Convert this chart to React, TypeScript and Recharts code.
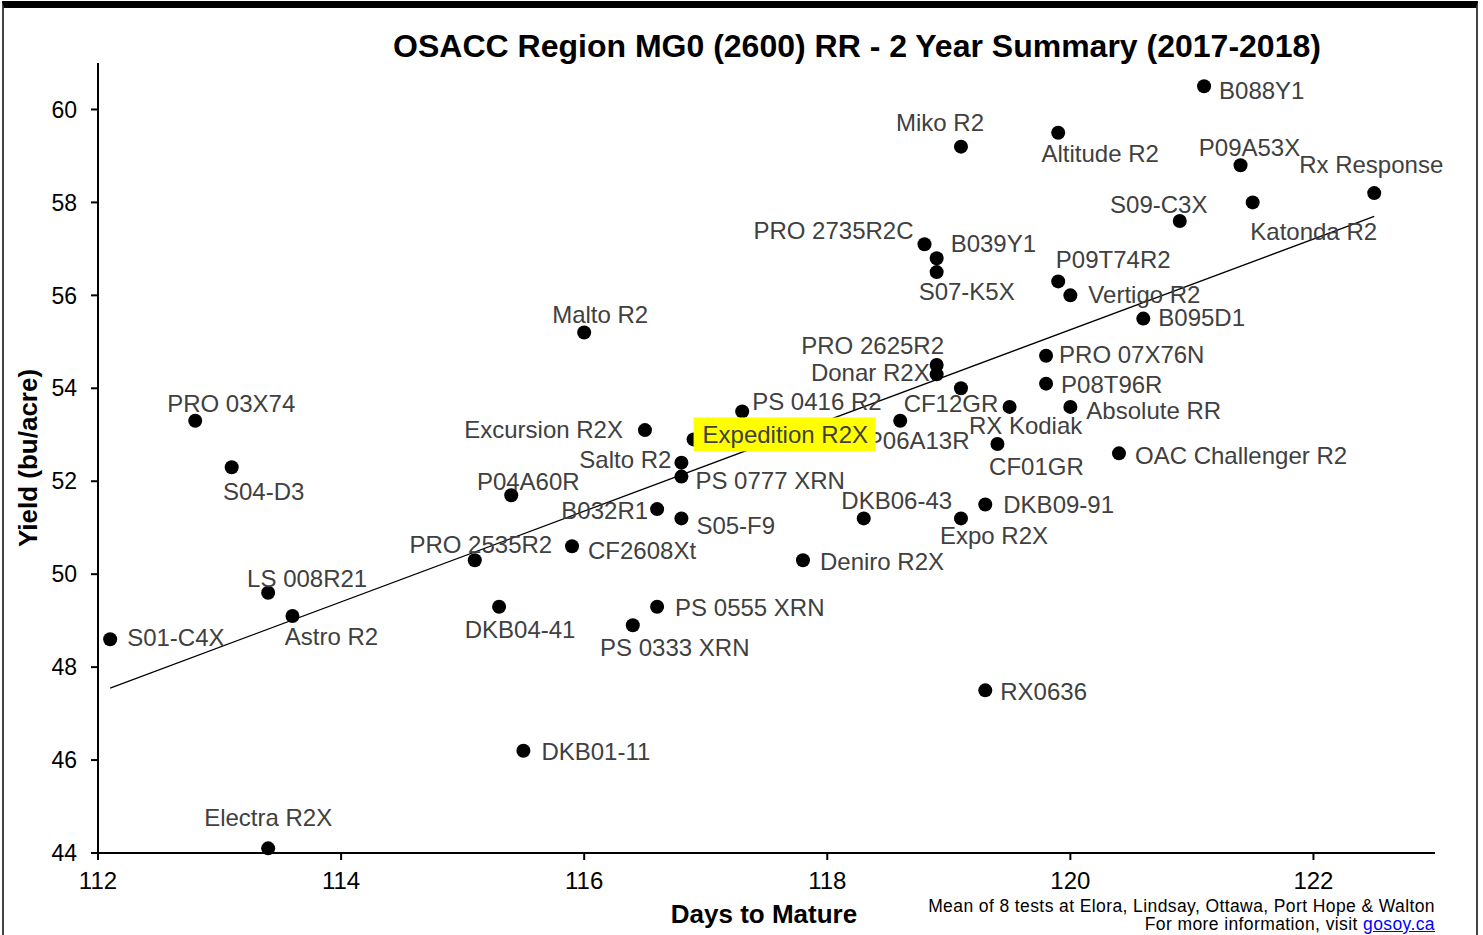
import React from "react";
import { ScatterChart, Scatter, XAxis, YAxis, ReferenceLine } from "recharts";

// variety names, days to maturity and yield (bu/acre)
const varieties = [
  "B088Y1", "Miko R2", "Altitude R2", "P09A53X", "Rx Response", "S09-C3X", "Katonda R2",
  "PRO 2735R2C", "B039Y1", "S07-K5X", "P09T74R2", "Vertigo R2", "B095D1", "Malto R2",
  "PRO 2625R2", "Donar R2X", "PRO 07X76N", "P08T96R", "CF12GR", "PS 0416 R2", "Absolute RR",
  "RX Kodiak", "P06A13R", "PRO 03X74", "Excursion R2X", "Expedition R2X", "CF01GR",
  "OAC Challenger R2", "S04-D3", "Salto R2", "PS 0777 XRN", "P04A60R", "DKB06-43", "DKB09-91",
  "B032R1", "S05-F9", "Expo R2X", "PRO 2535R2", "CF2608Xt", "Deniro R2X", "LS 008R21",
  "PS 0555 XRN", "DKB04-41", "Astro R2", "S01-C4X", "PS 0333 XRN", "RX0636", "DKB01-11",
  "Electra R2X",
];
const daysToMature = [
  121.1, 119.1, 119.9, 121.4, 122.5, 120.9, 121.5,
  118.8, 118.9, 118.9, 119.9, 120.0, 120.6, 116.0,
  118.9, 118.9, 119.8, 119.8, 119.1, 117.3, 120.0,
  119.5, 118.6, 112.8, 116.5, 116.9, 119.4,
  120.4, 113.1, 116.8, 116.8, 115.4, 118.3, 119.3,
  116.6, 116.8, 119.1, 115.1, 115.9, 117.8, 113.4,
  116.6, 115.3, 113.6, 112.1, 116.4, 119.3, 115.5,
  113.4,
];
const yieldBuAcre = [
  60.5, 59.2, 59.5, 58.8, 58.2, 57.6, 58.0,
  57.1, 56.8, 56.5, 56.3, 56.0, 55.5, 55.2,
  54.5, 54.3, 54.7, 54.1, 54.0, 53.5, 53.6,
  53.6, 53.3, 53.3, 53.1, 52.9, 52.8,
  52.6, 52.3, 52.4, 52.1, 51.7, 51.2, 51.5,
  51.4, 51.2, 51.2, 50.3, 50.6, 50.3, 49.6,
  49.3, 49.3, 49.1, 48.6, 48.9, 47.5, 46.2,
  44.1,
];
const xTicks = [112, 114, 116, 118, 120, 122];
const yTicks = [44, 46, 48, 50, 52, 54, 56, 58, 60];
const trendDays = [112.1, 122.5];
const trendYield = [47.55, 57.7];

const points = varieties.map((name, i) => ({ name, x: daysToMature[i], y: yieldBuAcre[i] }));

// label placement around each dot: [anchor, dx, dy]
const labelPos: Record<string, [string, number, number]> = {
  "B088Y1": ["start", 15, 4],
  "Miko R2": ["middle", -21, -24],
  "Altitude R2": ["middle", 42, 21],
  "P09A53X": ["middle", 9, -18],
  "Rx Response": ["middle", -3, -29],
  "S09-C3X": ["middle", -21, -17],
  "Katonda R2": ["middle", 61, 29],
  "PRO 2735R2C": ["end", -11, -14],
  "B039Y1": ["start", 14, -15],
  "S07-K5X": ["middle", 30, 19],
  "P09T74R2": ["middle", 55, -22],
  "Vertigo R2": ["start", 18, -1],
  "B095D1": ["start", 15, -1],
  "Malto R2": ["middle", 16, -18],
  "PRO 2625R2": ["middle", -64, -20],
  "Donar R2X": ["end", -7, -2],
  "PRO 07X76N": ["start", 13, -1],
  "P08T96R": ["start", 15, 1],
  "CF12GR": ["middle", -10, 15],
  "PS 0416 R2": ["start", 10, -10],
  "Absolute RR": ["start", 16, 4],
  "RX Kodiak": ["middle", 16, 19],
  "P06A13R": ["middle", 18, 20],
  "PRO 03X74": ["middle", 36, -17],
  "Excursion R2X": ["end", -22, -1],
  "Expedition R2X": ["start", 9, -5],
  "CF01GR": ["middle", 39, 22],
  "OAC Challenger R2": ["start", 16, 2],
  "S04-D3": ["middle", 32, 24],
  "Salto R2": ["end", -10, -3],
  "PS 0777 XRN": ["start", 14, 4],
  "P04A60R": ["middle", 17, -14],
  "DKB06-43": ["middle", 33, -18],
  "DKB09-91": ["start", 18, 0],
  "B032R1": ["end", -9, 1],
  "S05-F9": ["start", 15, 7],
  "Expo R2X": ["middle", 33, 17],
  "PRO 2535R2": ["middle", 6, -16],
  "CF2608Xt": ["start", 16, 4],
  "Deniro R2X": ["start", 17, 1],
  "LS 008R21": ["middle", 39, -14],
  "PS 0555 XRN": ["start", 18, 1],
  "DKB04-41": ["middle", 21, 23],
  "Astro R2": ["middle", 39, 20],
  "S01-C4X": ["start", 17, -2],
  "PS 0333 XRN": ["middle", 42, 22],
  "RX0636": ["start", 15, 1],
  "DKB01-11": ["start", 18, 1],
  "Electra R2X": ["middle", 0, -31],
};

const FONT = "'Liberation Sans', Arial, sans-serif";

function Dot(props: any) {
  const { cx, cy } = props;
  return <circle cx={cx} cy={cy} r={7} fill="#000" />;
}

function PointLabel(props: any) {
  const { cx, cy, payload } = props;
  const p = labelPos[payload.name] ?? ["start", 15, 0];
  return (
    <g>
      {payload.name === "Expedition R2X" && (
        <rect x={cx} y={cy - 22} width={182} height={34} fill="#ffff00" />
      )}
      <text
        x={cx + p[1]}
        y={cy + p[2]}
        textAnchor={p[0] as any}
        dominantBaseline="central"
        fontSize={24}
        fontFamily={FONT}
        fill="#404040"
      >
        {payload.name}
      </text>
    </g>
  );
}

export default function App() {
  return (
    <div style={{ position: "absolute", left: 0, top: 0, width: 1483, height: 935, background: "#fff", overflow: "hidden", fontFamily: FONT }}>
      <div style={{ position: "absolute", left: 2, top: 1, width: 1472, height: 960, borderTop: "7px solid #000", borderLeft: "2px solid #444", borderRight: "2px solid #444" }} />
      <ScatterChart width={1483} height={935} margin={{ top: 63, right: 48, bottom: 0, left: 0 }} style={{ position: "absolute", left: 0, top: 0 }}>
        <XAxis
          type="number"
          dataKey="x"
          domain={[112, 123]}
          ticks={xTicks}
          height={82}
          tickSize={7}
          tickMargin={12}
          axisLine={{ stroke: "#000", strokeWidth: 2 }}
          tickLine={{ stroke: "#000", strokeWidth: 2 }}
          tick={{ fill: "#000", fontSize: 24, fontFamily: FONT }}
        />
        <YAxis
          type="number"
          dataKey="y"
          domain={[44, 61]}
          ticks={yTicks}
          width={98}
          tickSize={7}
          tickMargin={14}
          axisLine={{ stroke: "#000", strokeWidth: 2 }}
          tickLine={{ stroke: "#000", strokeWidth: 2 }}
          tick={{ fill: "#000", fontSize: 23, fontFamily: FONT }}
        />
        <Scatter data={points} shape={Dot} isAnimationActive={false} />
        <Scatter data={points} shape={PointLabel} isAnimationActive={false} />
        <ReferenceLine
          segment={[
            { x: trendDays[0], y: trendYield[0] },
            { x: trendDays[1], y: trendYield[1] },
          ]}
          stroke="#000"
          strokeWidth={1.3}
        />
      </ScatterChart>
      <div style={{ position: "absolute", left: 0, width: 1714, top: 26, textAlign: "center", fontSize: 32, fontWeight: "bold", color: "#000", lineHeight: "40px", whiteSpace: "nowrap" }}>
        OSACC Region MG0 (2600) RR - 2 Year Summary (2017-2018)
      </div>
      <div style={{ position: "absolute", left: 564, width: 400, top: 899, textAlign: "center", fontSize: 26, fontWeight: "bold", color: "#000", lineHeight: "30px" }}>
        Days to Mature
      </div>
      <div style={{ position: "absolute", left: 28 - 150, width: 300, top: 458 - 15, textAlign: "center", fontSize: 26, fontWeight: "bold", color: "#000", lineHeight: "30px", transform: "rotate(-90deg)" }}>
        Yield (bu/acre)
      </div>
      <div style={{ position: "absolute", right: 48, top: 897, textAlign: "right", fontSize: 17.5, letterSpacing: 0.4, color: "#000", lineHeight: "18px", whiteSpace: "nowrap" }}>
        <div>Mean of 8 tests at Elora, Lindsay, Ottawa, Port Hope &amp; Walton</div>
        <div>
          For more information, visit <span style={{ color: "#0000ff", textDecoration: "underline" }}>gosoy.ca</span>
        </div>
      </div>
    </div>
  );
}
